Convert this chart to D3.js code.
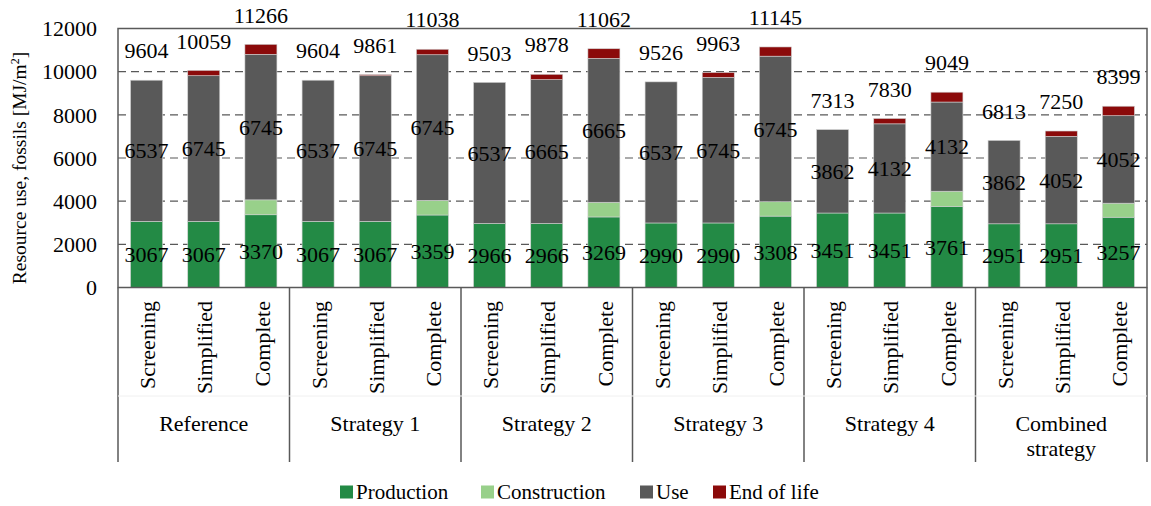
<!DOCTYPE html>
<html>
<head>
<meta charset="utf-8">
<script src="https://cdn.jsdelivr.net/npm/d3@7"></script>
<style>
  body { margin: 0; background: #fff; }
  svg { display: block; font-family: "Liberation Serif", serif; }
</style>
</head>
<body>
<svg></svg>
<script>
// Data
const groups = ['Reference', 'Strategy 1', 'Strategy 2', 'Strategy 3', 'Strategy 4', 'Combined strategy']
const methods = ['Screening', 'Simplified', 'Complete']
const production = [3067, 3067, 3370, 3067, 3067, 3359, 2966, 2966, 3269, 2990, 2990, 3308, 3451, 3451, 3761, 2951, 2951, 3257]
const construction = [0, 0, 690, 0, 0, 680, 0, 0, 680, 0, 0, 665, 0, 0, 700, 0, 0, 650]
const use = [6537, 6745, 6745, 6537, 6745, 6745, 6537, 6665, 6665, 6537, 6745, 6745, 3862, 4132, 4132, 3862, 4052, 4052]
const endOfLife = [0, 247, 461, 0, 49, 254, 0, 247, 448, 0, 228, 427, 0, 247, 456, 0, 247, 440]
const totals = [9604, 10059, 11266, 9604, 9861, 11038, 9503, 9878, 11062, 9526, 9963, 11145, 7313, 7830, 9049, 6813, 7250, 8399]
const yTicks = [0, 2000, 4000, 6000, 8000, 10000, 12000]

const series = [
  { key: 'production', label: 'Production', color: '#238a45', values: production },
  { key: 'construction', label: 'Construction', color: '#98d08a', values: construction },
  { key: 'use', label: 'Use', color: '#595959', values: use },
  { key: 'endOfLife', label: 'End of life', color: '#8b0a0a', values: endOfLife },
]

const rows = []
groups.forEach((g, gi) => {
  methods.forEach((m, mi) => {
    const i = gi * 3 + mi
    const row = { id: g + '|' + m, group: g, method: m, total: totals[i] }
    series.forEach((s) => (row[s.key] = s.values[i]))
    rows.push(row)
  })
})

// Layout
const width = 1151
const height = 506
const margin = { left: 118, right: 4, top: 28.5 }
const plotBottom = 287.5
const axisBottom = 462
const fontSize = 22

const svg = d3.select('svg').attr('width', width).attr('height', height)

const x = d3
  .scaleBand()
  .domain(rows.map((d) => d.id))
  .range([margin.left, width - margin.right])
  .paddingInner(0.44)
  .paddingOuter(0.22)

const y = d3.scaleLinear().domain([0, 12000]).range([plotBottom, margin.top])

// Gridlines
svg
  .append('g')
  .selectAll('line')
  .data(yTicks.slice(1, -1))
  .join('line')
  .attr('x1', margin.left)
  .attr('x2', width - margin.right)
  .attr('y1', (d) => y(d))
  .attr('y2', (d) => y(d))
  .attr('stroke', '#595959')
  .attr('stroke-width', 1.2)
  .attr('stroke-dasharray', '8,5')

// Stacked bars
const stack = d3.stack().keys(series.map((s) => s.key))
const stacked = stack(rows)

svg
  .append('g')
  .selectAll('g')
  .data(stacked)
  .join('g')
  .attr('fill', (d, i) => series[i].color)
  .selectAll('rect')
  .data((d) => d.filter((p) => p[1] - p[0] > 0))
  .join('rect')
  .attr('x', (d) => x(d.data.id))
  .attr('width', x.bandwidth())
  .attr('y', (d) => y(d[1]))
  .attr('height', (d) => y(d[0]) - y(d[1]))
  .attr('stroke', '#d0d0d0')
  .attr('stroke-width', 0.6)

// Value labels
const labels = svg.append('g').attr('font-size', fontSize).attr('text-anchor', 'middle').attr('fill', '#000')
labels
  .selectAll('.prod')
  .data(rows)
  .join('text')
  .attr('x', (d) => x(d.id) + x.bandwidth() / 2)
  .attr('y', (d) => y(d.production / 2))
  .attr('dy', '0.35em')
  .text((d) => d.production)
labels
  .selectAll('.use')
  .data(rows)
  .join('text')
  .attr('x', (d) => x(d.id) + x.bandwidth() / 2)
  .attr('y', (d) => y(d.production + d.construction + d.use / 2))
  .attr('dy', '0.35em')
  .text((d) => d.use)
labels
  .selectAll('.tot')
  .data(rows)
  .join('text')
  .attr('x', (d) => x(d.id) + x.bandwidth() / 2)
  .attr('y', (d) => y(d.total) - 29.5)
  .attr('dy', '0.35em')
  .text((d) => d.total)

// Y axis labels
svg
  .append('g')
  .attr('font-size', fontSize)
  .attr('text-anchor', 'end')
  .selectAll('text')
  .data(yTicks)
  .join('text')
  .attr('x', 97)
  .attr('y', (d) => y(d))
  .attr('dy', '0.35em')
  .text((d) => d)

svg
  .append('text')
  .attr('transform', `translate(26,${(margin.top + plotBottom) / 2 + 10}) rotate(-90)`)
  .attr('text-anchor', 'middle')
  .attr('font-size', 19.5)
  .text('Resource use, fossils [MJ/m')
  .append('tspan')
  .attr('font-size', 12)
  .attr('dy', -7)
  .text('2')
  .append('tspan')
  .attr('font-size', 19.5)
  .attr('dy', 7)
  .text(']')

// Plot frame
svg
  .append('rect')
  .attr('x', margin.left)
  .attr('y', y(12000))
  .attr('width', width - margin.right - margin.left)
  .attr('height', plotBottom - y(12000))
  .attr('fill', 'none')
  .attr('stroke', '#595959')
  .attr('stroke-width', 1.5)

// Category axis (two levels)
const groupEdges = groups.map((g, gi) => x.step() * gi * 3 + margin.left)
groupEdges.push(width - margin.right)
svg
  .append('g')
  .selectAll('line')
  .data(groupEdges)
  .join('line')
  .attr('x1', (d) => d)
  .attr('x2', (d) => d)
  .attr('y1', plotBottom)
  .attr('y2', axisBottom)
  .attr('stroke', '#595959')
  .attr('stroke-width', 1.5)

svg
  .append('line')
  .attr('x1', margin.left)
  .attr('x2', width - margin.right)
  .attr('y1', 396)
  .attr('y2', 396)
  .attr('stroke', '#f0f0f0')

svg
  .append('g')
  .attr('font-size', fontSize)
  .attr('text-anchor', 'end')
  .selectAll('text')
  .data(rows)
  .join('text')
  .attr('transform', (d) => `translate(${x(d.id) + x.bandwidth() / 2 + 1},301) rotate(-90)`)
  .attr('dy', '0.35em')
  .text((d) => d.method)

const groupLabels = svg
  .append('g')
  .attr('font-size', fontSize)
  .attr('text-anchor', 'middle')
  .selectAll('text')
  .data(groups)
  .join('text')
  .attr('x', (d, i) => (groupEdges[i] + groupEdges[i + 1]) / 2)
  .attr('y', 423)
groupLabels.each(function (d) {
  const words = d === 'Combined strategy' ? ['Combined', 'strategy'] : [d]
  const t = d3.select(this)
  words.forEach((w, wi) => {
    t.append('tspan')
      .attr('x', t.attr('x'))
      .attr('dy', wi === 0 ? '0.35em' : 25)
      .text(w)
  })
})

// Legend
const legendX = [340, 481, 640, 713]
const legend = svg
  .append('g')
  .selectAll('g')
  .data(series)
  .join('g')
  .attr('transform', (d, i) => `translate(${legendX[i]},492)`)
legend
  .append('rect')
  .attr('x', 0)
  .attr('y', -6.5)
  .attr('width', 13)
  .attr('height', 13)
  .attr('fill', (d) => d.color)
legend
  .append('text')
  .attr('x', 16)
  .attr('dy', '0.33em')
  .attr('font-size', 21)
  .text((d) => d.label)
</script>
</body>
</html>
